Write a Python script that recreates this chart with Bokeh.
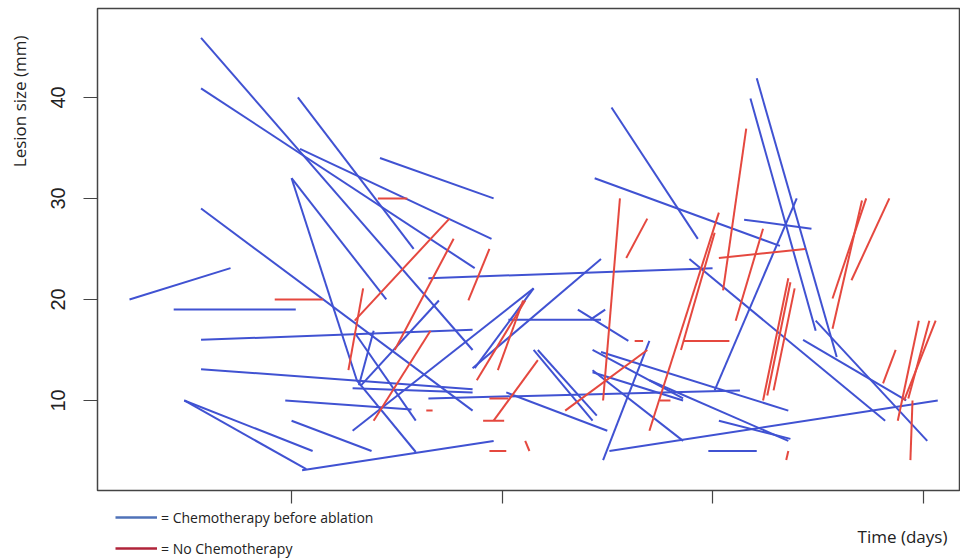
import math
from bokeh.plotting import figure
from bokeh.layouts import column
from bokeh.models import ColumnDataSource, Range1d, FixedTicker, Label, Legend, LegendItem, Title
from bokeh.embed import file_html
from bokeh.resources import INLINE

# ---- data: lesion size (mm) at start and end time (days) ----
chemo_t0 = [23, 44, 57, 57, 49, 49, 105, 97, 100, 57, 57, 104, 103, 142, 100, 100, 131, 57,
            165, 130, 139, 133, 129, 186, 203, 236, 242, 215, 217, 165, 202, 243, 247, 243,
            243, 270, 248, 251, 252, 244, 315, 301, 318, 321, 289, 343, 349, 298, 303, 187, 129]
chemo_s0 = [20.0, 19.0, 16.0, 13.1, 10.0, 10.0, 3.1, 10.0, 8.0, 45.9, 40.9, 34.9, 40.0, 34.0,
            32.0, 32.0, 12.0, 29.0, 22.1, 16.7, 16.9, 11.5, 7.0, 13.2, 18.0, 19.0, 18.0, 15.0,
            15.0, 10.2, 10.8, 15.0, 14.8, 13.0, 12.8, 12.0, 4.1, 5.0, 39.0, 32.0, 27.9, 11.0,
            39.9, 41.9, 24.0, 16.0, 17.9, 5.0, 8.0, 13.2, 11.2]
chemo_t1 = [71, 102, 186, 186, 110, 107, 196, 157, 138, 186, 187, 195, 158, 196, 145, 131, 159, 186,
            300, 159, 132, 170, 215, 247, 247, 260, 249, 243, 245, 313, 250, 286, 336, 286,
            286, 336, 270, 407, 293, 332, 347, 340, 349, 359, 382, 392, 402, 321, 337, 215, 186]
chemo_s1 = [23.1, 19.0, 17.0, 11.1, 5.0, 3.2, 6.0, 9.1, 5.0, 15.0, 23.1, 26.0, 25.0, 30.0,
            20.0, 12.0, 4.9, 9.0, 23.1, 8.0, 11.5, 19.9, 21.1, 24.0, 18.0, 15.9, 19.0, 8.0,
            8.5, 11.0, 7.0, 10.2, 9.0, 6.0, 10.0, 6.0, 15.9, 10.0, 26.0, 25.3, 27.0, 30.0,
            16.9, 14.3, 8.0, 10.0, 6.0, 5.0, 6.2, 21.1, 10.8]

nochemo_t0 = [92, 141, 134, 175, 177, 166, 194, 211, 210, 217, 191, 194, 164, 194, 211, 256, 269,
              230, 263, 286, 303, 316, 301, 324, 303, 275, 336, 337, 339, 336, 373, 371, 384,
              387, 398, 406, 403, 395]
nochemo_s0 = [20.0, 30.0, 21.1, 28.0, 26.0, 16.9, 25.0, 19.9, 19.9, 14.0, 8.0, 10.2, 9.0, 5.0,
              6.0, 30.0, 28.0, 9.0, 15.9, 15.9, 28.6, 36.9, 26.6, 27.0, 24.1, 10.0, 22.1, 21.7,
              21.1, 5.0, 30.0, 29.8, 30.0, 15.0, 17.9, 17.9, 17.9, 10.0]
nochemo_t1 = [115, 155, 127, 130, 149, 139, 184, 188, 198, 196, 201, 203, 167, 202, 213, 248, 259,
              269, 267, 308, 270, 305, 285, 311, 344, 280, 324, 326, 329, 335, 357, 357, 366,
              381, 388, 391, 393, 394]
nochemo_s1 = [20.0, 30.0, 13.0, 17.9, 15.0, 8.0, 19.9, 12.0, 13.0, 8.0, 8.0, 10.2, 9.0, 5.0,
              5.0, 10.0, 24.1, 15.0, 15.9, 15.9, 7.0, 20.9, 15.0, 17.9, 25.0, 10.0, 10.0, 10.5,
              11.0, 4.1, 20.1, 17.1, 21.9, 11.7, 8.0, 10.0, 10.2, 4.1]

x_ticks = [100, 200, 300, 400]
y_ticks = [10, 20, 30, 40]
legend_labels = ["= Chemotherapy before ablation", "= No Chemotherapy"]

BLUE = "#4052d2"
RED = "#e5483f"
AXC = "#444444"
TXT = "#222222"

p = figure(frame_width=863, frame_height=482,
           x_range=Range1d(7.8, 417.8), y_range=Range1d(1.09, 48.8),
           output_backend="svg", toolbar_location=None,
           min_border_left=97, min_border_right=0, min_border_top=8, min_border_bottom=15)

p.xgrid.visible = False
p.ygrid.visible = False
p.outline_line_color = AXC
p.outline_line_width = 1.5
p.background_fill_color = "white"
p.border_fill_color = "white"

# axes
p.xaxis.ticker = FixedTicker(ticks=x_ticks)
p.xaxis.major_label_overrides = {t: " " for t in x_ticks}
p.xaxis.major_label_text_font_size = "1px"
p.xaxis.major_label_standoff = 0
p.xaxis.major_tick_out = 13
p.xaxis.major_tick_in = 0
p.xaxis.minor_tick_line_color = None
p.xaxis.axis_line_color = AXC
p.xaxis.major_tick_line_color = AXC
p.xaxis.major_tick_line_width = 1.2

p.yaxis.ticker = FixedTicker(ticks=y_ticks)
p.yaxis.major_label_orientation = "vertical"
p.yaxis.major_label_text_font = "Liberation Sans"
p.yaxis.major_label_text_font_size = "20px"
p.yaxis.major_label_text_color = TXT
p.yaxis.major_label_standoff = 18
p.yaxis.major_tick_out = 14
p.yaxis.major_tick_in = 0
p.yaxis.minor_tick_line_color = None
p.yaxis.axis_line_color = AXC
p.yaxis.major_tick_line_color = AXC
p.yaxis.major_tick_line_width = 1.2
# invisible spacer label to push the vertical title outward
p.yaxis.axis_label = " "
p.yaxis.axis_label_text_font_size = "1px"
p.yaxis.axis_label_standoff = 9

p.add_layout(Title(text="Lesion size (mm)", align="right", offset=27,
                   text_font="Open Sans", text_font_size="17px",
                   text_font_style="normal", text_color=TXT), "left")

src_b = ColumnDataSource(dict(x0=chemo_t0, y0=chemo_s0, x1=chemo_t1, y1=chemo_s1))
src_r = ColumnDataSource(dict(x0=nochemo_t0, y0=nochemo_s0, x1=nochemo_t1, y1=nochemo_s1))
p.segment(x0="x0", y0="y0", x1="x1", y1="y1", source=src_b, line_color=BLUE, line_width=2)
p.segment(x0="x0", y0="y0", x1="x1", y1="y1", source=src_r, line_color=RED, line_width=2)

# ---- bottom strip: legend and x-axis title ----
f2 = figure(width=960, height=55, x_range=Range1d(97, 960), y_range=Range1d(0, 55),
            output_backend="svg", toolbar_location=None,
            x_axis_type=None, y_axis_type=None,
            min_border_left=0, min_border_right=0, min_border_top=0, min_border_bottom=0)
f2.xgrid.visible = False
f2.ygrid.visible = False
f2.outline_line_color = None
f2.background_fill_color = "white"
f2.border_fill_color = "white"

# legend key renderers (kept outside the visible range; only their styles are used)
lb = f2.line(x=[-20, -10], y=[-20, -20], line_color="#4f72b8", line_width=2.5)
lr = f2.line(x=[-20, -10], y=[-30, -30], line_color="#b0243a", line_width=2.5)
legend = Legend(items=[LegendItem(label=legend_labels[0], renderers=[lb]),
                       LegendItem(label=legend_labels[1], renderers=[lr])],
                location=(18, 4), orientation="vertical",
                glyph_width=42, glyph_height=20, label_height=20, label_standoff=4,
                spacing=11, padding=0, margin=0,
                border_line_alpha=0, background_fill_alpha=0,
                label_text_font="Open Sans", label_text_font_size="14px",
                label_text_color=TXT)
f2.add_layout(legend)
f2.add_layout(Label(x=902, y=26, text="Time (days)", text_align="center",
                    text_baseline="middle", text_font="Open Sans",
                    text_font_size="17px", text_color=TXT))

open("out.html", "w").write(file_html(column(p, f2, spacing=0), INLINE))
